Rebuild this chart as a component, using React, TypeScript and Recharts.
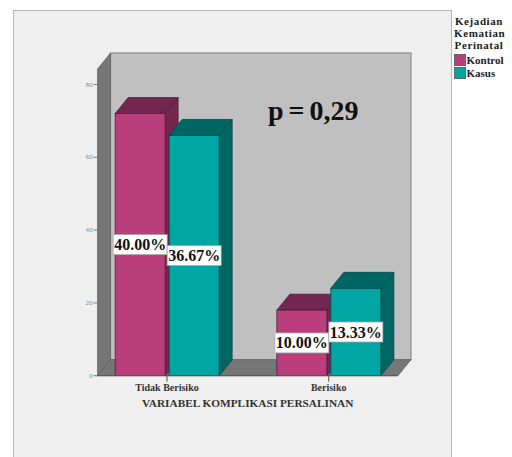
import React from "react";
import { BarChart, Bar, XAxis, YAxis, LabelList, Legend, usePlotArea } from "recharts";

const categories = ["Tidak Berisiko", "Berisiko"];
const kontrolCounts = [72, 18];
const kasusCounts = [66, 24];
const yTicks = [0, 20, 40, 60, 80];
const totalCases = 180;

const chartData = categories.map((name, i) => ({
  name,
  Kontrol: kontrolCounts[i],
  Kasus: kasusCounts[i],
}));

// offset of the rear planes of the 3D box
const DEPTH_X = 13;
const DEPTH_Y = 16;

const SERIF = "'Liberation Serif', serif";
const WALL = "#767676";
const WALL_EDGE = "#555555";

const pts = (list: number[][]) => list.map((p) => p.join(",")).join(" ");

const Walls = () => {
  const area = usePlotArea();
  if (!area) return null;
  const left = area.x;
  const right = area.x + area.width;
  const top = area.y;
  const bottom = area.y + area.height;
  return (
    <g>
      <rect
        x={left + DEPTH_X}
        y={top - DEPTH_Y}
        width={area.width}
        height={area.height}
        fill="#C0C0C0"
        stroke="#8c8c8c"
        strokeWidth={1.2}
      />
      <polygon
        points={pts([
          [left, bottom],
          [left, top],
          [left + DEPTH_X, top - DEPTH_Y],
          [left + DEPTH_X, bottom - DEPTH_Y],
        ])}
        fill={WALL}
        stroke={WALL_EDGE}
        strokeWidth={0.6}
      />
      <polygon
        points={pts([
          [left, bottom],
          [right, bottom],
          [right + DEPTH_X, bottom - DEPTH_Y],
          [left + DEPTH_X, bottom - DEPTH_Y],
        ])}
        fill={WALL}
        stroke={WALL_EDGE}
        strokeWidth={0.6}
      />
    </g>
  );
};

// front, top and side faces of one bar
const box3d = (front: string, dark: string, edge: string) => (props: any) => {
  const { x, y, width, height } = props;
  const r = x + width;
  const b = y + height;
  return (
    <g stroke={edge} strokeWidth={0.8}>
      <polygon
        points={pts([
          [r, y],
          [r + DEPTH_X, y - DEPTH_Y],
          [r + DEPTH_X, b - DEPTH_Y],
          [r, b],
        ])}
        fill={dark}
      />
      <polygon
        points={pts([
          [x, y],
          [x + DEPTH_X, y - DEPTH_Y],
          [r + DEPTH_X, y - DEPTH_Y],
          [r, y],
        ])}
        fill={dark}
      />
      <rect x={x} y={y} width={width} height={height} fill={front} />
    </g>
  );
};

const percentLabel = (props: any) => {
  const { x, y, width, height, value } = props;
  const cx = x + width / 2;
  const cy = y + height / 2;
  return (
    <g>
      <rect x={cx - 27} y={cy - 10} width={54} height={20} fill="#ffffff" stroke="#a8a8a8" strokeWidth={0.8} />
      <text x={cx} y={cy + 5.5} textAnchor="middle" fontFamily={SERIF} fontWeight="bold" fontSize={16} fill="#111111">
        {((value / totalCases) * 100).toFixed(2) + "%"}
      </text>
    </g>
  );
};

const legendTitle = ["Kejadian", "Kematian", "Perinatal"];

const LegendBox = ({ payload }: any) => (
  <div style={{ fontFamily: SERIF, fontWeight: "bold", color: "#222222" }}>
    <div style={{ fontSize: 11, lineHeight: "12px", textAlign: "center", width: 50, letterSpacing: 0.6 }}>
      {legendTitle.map((t) => (
        <div key={t}>{t}</div>
      ))}
    </div>
    {(payload || []).map((item: any, i: number) => (
      <div
        key={item.value}
        style={{ display: "flex", alignItems: "center", height: 13.3, fontSize: 11, marginTop: i === 0 ? 2 : 0 }}
      >
        <span
          style={{
            display: "inline-block",
            width: 10,
            height: 10,
            background: item.color,
            border: "0.5px solid #666666",
            marginRight: 0.5,
          }}
        />
        {item.value}
      </div>
    ))}
  </div>
);

export default function App() {
  return (
    <div style={{ position: "absolute", left: 0, top: 0, width: 512, height: 457, background: "#ffffff", overflow: "hidden" }}>
      <div
        style={{
          position: "absolute",
          left: 13,
          top: 10,
          width: 437,
          height: 460,
          background: "#EFEFEF",
          border: "1.5px solid #b4b4b4",
        }}
      />
      <div style={{ position: "absolute", left: 0, top: 0 }}>
        <BarChart
          width={512}
          height={457}
          data={chartData}
          barSize={50}
          barGap={4}
          margin={{ top: 69, right: 114, bottom: 45.3, left: 57.5 }}
        >
          <Walls />
          <XAxis
            dataKey="name"
            height={36}
            padding={{ left: -11.35, right: -11.55 }}
            axisLine={{ stroke: "#555555" }}
            tickLine={{ stroke: "#555555" }}
            tickSize={6}
            interval={0}
            tick={{ fontFamily: SERIF, fontWeight: "bold", fontSize: 10, fill: "#333333" }}
            label={{
              value: "VARIABEL KOMPLIKASI PERSALINAN",
              position: "insideBottom",
              fontFamily: SERIF,
              fontWeight: "bold",
              fontSize: 11.3,
              fill: "#333333",
            }}
          />
          <YAxis
            width={40}
            domain={[0, 84.25]}
            ticks={yTicks}
            allowDataOverflow
            axisLine={false}
            tickLine={{ stroke: "#777777" }}
            tickSize={4}
            tickMargin={1}
            tick={{ fontFamily: "'Liberation Sans', sans-serif", fontSize: 6, fill: "#888888" }}
          />
          <Legend
            layout="horizontal"
            align="center"
            verticalAlign="middle"
            itemSorter={null}
            content={LegendBox}
            wrapperStyle={{ position: "absolute", left: 454, top: 15, width: 58 }}
          />
          <Bar
            dataKey="Kontrol"
            fill="#BA3E7C"
            isAnimationActive={false}
            shape={box3d("#BA3E7C", "#72274F", "#4d1f3a")}
          >
            <LabelList dataKey="Kontrol" content={percentLabel} />
          </Bar>
          <Bar
            dataKey="Kasus"
            fill="#00A6A3"
            isAnimationActive={false}
            shape={box3d("#00A6A3", "#006664", "#004a48")}
          >
            <LabelList dataKey="Kasus" content={percentLabel} />
          </Bar>
          <text
            x={268}
            y={120}
            fontFamily={SERIF}
            fontWeight="bold"
            fontSize={28}
            wordSpacing={-2}
            fill="#111111"
          >
            p = 0,29
          </text>
        </BarChart>
      </div>
    </div>
  );
}
